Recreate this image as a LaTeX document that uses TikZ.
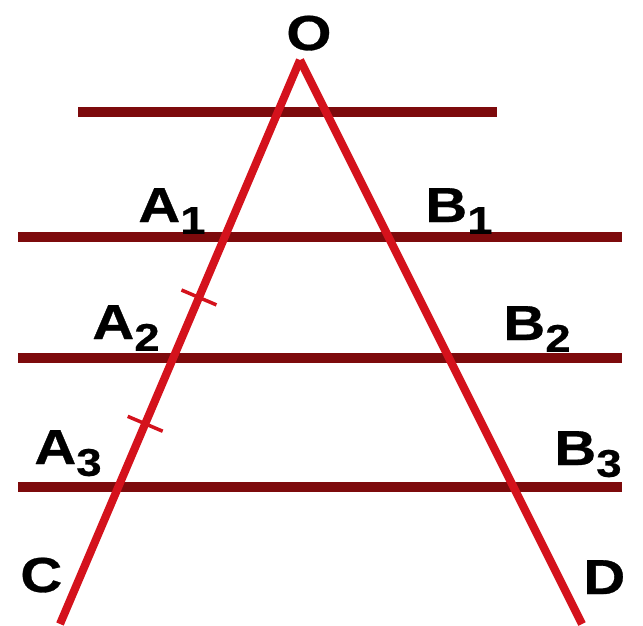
\documentclass[tikz,border=0pt]{standalone}
\usepackage{fontspec}
\newfontfamily\lblfont[FakeStretch=1.18,FakeBold=0.6]{Liberation Sans Bold}
\usetikzlibrary{calc,positioning}

\definecolor{transv}{RGB}{212,18,28}
\definecolor{parline}{RGB}{125,10,12}

\newcommand{\ptname}[2]{#1\raisebox{-0.24em}{\fontsize{22}{22}\selectfont #2}}

\begin{document}
\begin{tikzpicture}[
	x=0.02cm, y=-0.02cm,
	font=\lblfont\fontsize{28}{30}\selectfont,
	parallel/.style={
		draw=parline,
		line width=5.8pt
	},
	secant/.style={
		draw=transv,
		line width=4.6pt
	},
	tick/.style={
		draw=transv,
		line width=2pt
	},
	ptlabel/.style={
		anchor=base west,
		inner sep=0pt,
		text=black
	}
	]
	
	\useasboundingbox (0,0) rectangle (643,626);
	
	\coordinate (O) at (300,60);
	\coordinate (C) at (60,624);
	\coordinate (D) at (582,624);
	
	% parallel lines
	\coordinate (p0l) at (78,112);  \coordinate (p0r) at (497,112);
	\coordinate (p1l) at (18,237);  \coordinate (p1r) at (622,237);
	\coordinate (p2l) at (18,358);  \coordinate (p2r) at (622,358);
	\coordinate (p3l) at (18,487);  \coordinate (p3r) at (622,487);
	\foreach \i in {0,1,2,3}
		\draw[parallel] (p\i l) -- (p\i r);
	
	% the two sides
	\draw[secant] (O) -- (C);
	\draw[secant] (O) -- (D);
	
	% equal segments marks
	\coordinate (m1) at ($(O)!0.421!(C)$);
	\coordinate (m2) at ($(O)!0.645!(C)$);
	\foreach \m in {m1,m2}
		\draw[tick] ($(\m)!0.38cm!90:(C)$) -- ($(\m)!0.38cm!-90:(C)$);
	
	\node[ptlabel] (lO) at (286,50) {O};
	\node[ptlabel] (lA1) at (138,222) {\ptname{A}{1}};
	\node[ptlabel] (lB1) at (425,222) {\ptname{B}{1}};
	\node[ptlabel] (lA2) at (92,339) {\ptname{A}{2}};
	\node[ptlabel] (lB2) at (503,340) {\ptname{B}{2}};
	\node[ptlabel] (lA3) at (34,464) {\ptname{A}{3}};
	\node[ptlabel] (lB3) at (554,465) {\ptname{B}{3}};
	\node[ptlabel] (lC) at (20,592) {C};
	\node[ptlabel] (lD) at (583,594) {D};
\end{tikzpicture}
\end{document}
